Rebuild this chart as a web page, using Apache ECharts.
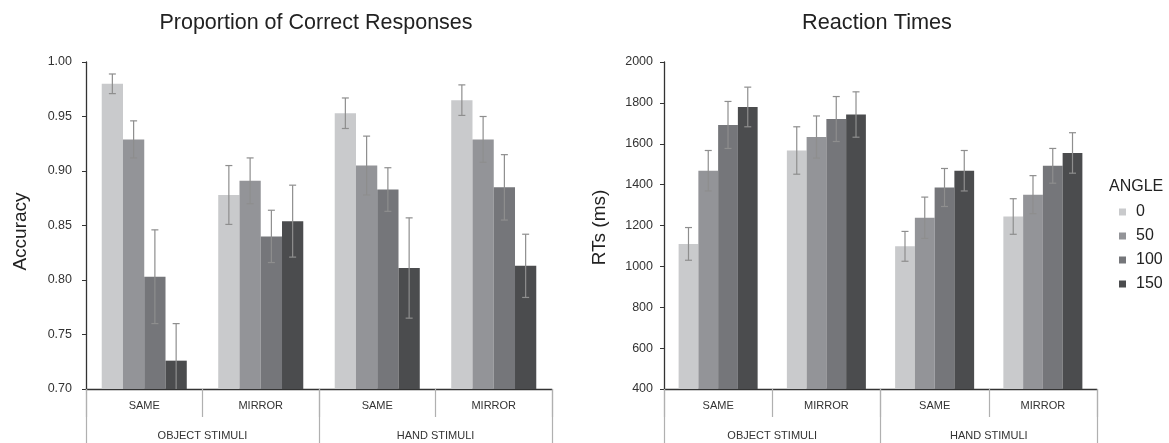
<!DOCTYPE html>
<html>
<head>
<meta charset="utf-8">
<script src="https://cdn.jsdelivr.net/npm/echarts@6/dist/echarts.min.js"></script>
<style>
html, body { margin: 0; padding: 0; background: #fff; }
#chart { width: 1169px; height: 443px; }
</style>
</head>
<body>
<div id="chart"></div>
<script>
const conditions = ['SAME', 'MIRROR', 'SAME', 'MIRROR'];
const stimuli = ['OBJECT STIMULI', 'HAND STIMULI'];
const angles = ['0', '50', '100', '150'];
const colors = ['#c9cacc', '#939498', '#75767a', '#4b4c4e'];

// accuracy, one array per angle (object same, object mirror, hand same, hand mirror)
const acc0 = [0.980, 0.878, 0.953, 0.965];
const acc50 = [0.929, 0.891, 0.905, 0.929];
const acc100 = [0.803, 0.840, 0.883, 0.885];
const acc150 = [0.726, 0.854, 0.811, 0.813];
const accErr0 = [0.009, 0.027, 0.014, 0.014];
const accErr50 = [0.017, 0.021, 0.027, 0.021];
const accErr100 = [0.043, 0.024, 0.020, 0.030];
const accErr150 = [0.034, 0.033, 0.046, 0.029];

// reaction times (ms)
const rt0 = [1110, 1567, 1098, 1244];
const rt50 = [1468, 1633, 1238, 1351];
const rt100 = [1692, 1721, 1386, 1492];
const rt150 = [1780, 1743, 1468, 1555];
const rtErr0 = [80, 116, 73, 87];
const rtErr50 = [99, 103, 101, 93];
const rtErr100 = [115, 110, 93, 85];
const rtErr150 = [97, 111, 99, 99];

const accMeans = [acc0, acc50, acc100, acc150];
const accErrs = [accErr0, accErr50, accErr100, accErr150];
const rtMeans = [rt0, rt50, rt100, rt150];
const rtErrs = [rtErr0, rtErr50, rtErr100, rtErr150];

const gapRatio = 0.27;
const font = 'Liberation Sans, Arial, sans-serif';

function errData(means, errs, floor) {
    let out = [];
    means.forEach(function (arr, s) {
        arr.forEach(function (v, i) {
            out.push([i, v, errs[s][i], s, floor]);
        });
    });
    return out;
}

function renderErr(params, api) {
    let cat = api.value(0), v = api.value(1), e = api.value(2), s = api.value(3), floor = api.value(4);
    let band = api.size([1, 0])[0];
    let bw = band * (1 - gapRatio) / 4;
    let c = api.coord([cat, v]);
    let x = c[0] + (s - 1.5) * bw;
    let top = api.coord([cat, v + e])[1];
    let clipped = v - e < floor;
    let bot = api.coord([cat, Math.max(v - e, floor)])[1];
    let st = { stroke: '#8e8e8e', lineWidth: 1.2 };
    let kids = [
        { type: 'line', shape: { x1: x, y1: top, x2: x, y2: bot }, style: st },
        { type: 'line', shape: { x1: x - 3.5, y1: top, x2: x + 3.5, y2: top }, style: st }
    ];
    if (!clipped) {
        kids.push({ type: 'line', shape: { x1: x - 3.5, y1: bot, x2: x + 3.5, y2: bot }, style: st });
    }
    return { type: 'group', children: kids };
}

function subAxis(grid) {
    return {
        type: 'category',
        gridIndex: grid,
        position: 'bottom',
        data: conditions,
        axisLine: { show: true, onZero: false, lineStyle: { color: '#333', width: 1.3 } },
        axisTick: { show: true, length: 28, lineStyle: { color: '#b0b0b0', width: 1.2 } },
        axisLabel: { margin: 11, fontSize: 11, color: '#333', fontFamily: font }
    };
}

function groupAxis(grid) {
    return {
        type: 'category',
        gridIndex: grid,
        position: 'bottom',
        data: stimuli,
        axisLine: { show: false, onZero: false },
        axisTick: { show: true, length: 56, lineStyle: { color: '#b0b0b0', width: 1.2 } },
        axisLabel: { margin: 41, fontSize: 11, color: '#333', fontFamily: font }
    };
}

let series = [];
angles.forEach(function (a, s) {
    series.push({
        name: a, type: 'bar', xAxisIndex: 0, yAxisIndex: 0,
        barGap: 0, barCategoryGap: '27%',
        itemStyle: { color: colors[s] },
        data: accMeans[s]
    });
});
angles.forEach(function (a, s) {
    series.push({
        name: a, type: 'bar', xAxisIndex: 2, yAxisIndex: 1,
        barGap: 0, barCategoryGap: '27%',
        itemStyle: { color: colors[s] },
        data: rtMeans[s]
    });
});
series.push({
    type: 'custom', xAxisIndex: 0, yAxisIndex: 0, z: 5,
    renderItem: renderErr, encode: { x: 0, y: 1 },
    data: errData(accMeans, accErrs, 0.70)
});
series.push({
    type: 'custom', xAxisIndex: 2, yAxisIndex: 1, z: 5,
    renderItem: renderErr, encode: { x: 0, y: 1 },
    data: errData(rtMeans, rtErrs, 400)
});

let myChart = echarts.init(document.getElementById('chart'));
let option = {
    backgroundColor: '#fff',
    animation: false,
    title: [
        { text: 'Proportion of Correct Responses', left: 311, top: 7, textAlign: 'center',
          textStyle: { fontSize: 21.5, fontWeight: 'normal', color: '#222', fontFamily: font } },
        { text: 'Reaction Times', left: 872, top: 7, textAlign: 'center',
          textStyle: { fontSize: 21.7, fontWeight: 'normal', color: '#222', fontFamily: font } },
        { text: 'ANGLE', left: 1104, top: 174,
          textStyle: { fontSize: 16, fontWeight: 'normal', color: '#222', fontFamily: font } }
    ],
    legend: {
        data: angles,
        orient: 'vertical',
        left: 1119,
        top: 204,
        padding: 0,
        icon: 'rect',
        itemWidth: 7,
        itemHeight: 7,
        itemGap: 8,
        textStyle: { fontSize: 16, color: '#222', fontFamily: font, padding: [0, 0, 0, 5] }
    },
    grid: [
        { left: 86, right: 617, top: 62, bottom: 54 },
        { left: 664, right: 72, top: 62, bottom: 54 }
    ],
    xAxis: [subAxis(0), groupAxis(0), subAxis(1), groupAxis(1)],
    yAxis: [
        {
            type: 'value', gridIndex: 0, min: 0.70, max: 1.00, interval: 0.05,
            name: 'Accuracy', nameLocation: 'middle', nameGap: 56, nameRotate: 90,
            nameTextStyle: { fontSize: 19, color: '#222', fontFamily: font, padding: [0, 12, 0, 0] },
            splitLine: { show: false },
            axisLine: { show: true, lineStyle: { color: '#333', width: 1.3 } },
            axisTick: { show: true, length: 4, lineStyle: { color: '#333' } },
            axisLabel: { margin: 14, fontSize: 12.5, color: '#333', fontFamily: font,
                formatter: function (v) { return v.toFixed(2); } }
        },
        {
            type: 'value', gridIndex: 1, min: 400, max: 2000, interval: 200,
            name: 'RTs (ms)', nameLocation: 'middle', nameGap: 55, nameRotate: 90,
            nameTextStyle: { fontSize: 19, color: '#222', fontFamily: font, padding: [0, 4, 0, 0] },
            splitLine: { show: false },
            axisLine: { show: true, lineStyle: { color: '#333', width: 1.3 } },
            axisTick: { show: true, length: 4, lineStyle: { color: '#333' } },
            axisLabel: { margin: 11, fontSize: 12.5, color: '#333', fontFamily: font,
                formatter: function (v) { return String(v); } }
        }
    ],
    series: series
};
myChart.setOption(option);
</script>
</body>
</html>
